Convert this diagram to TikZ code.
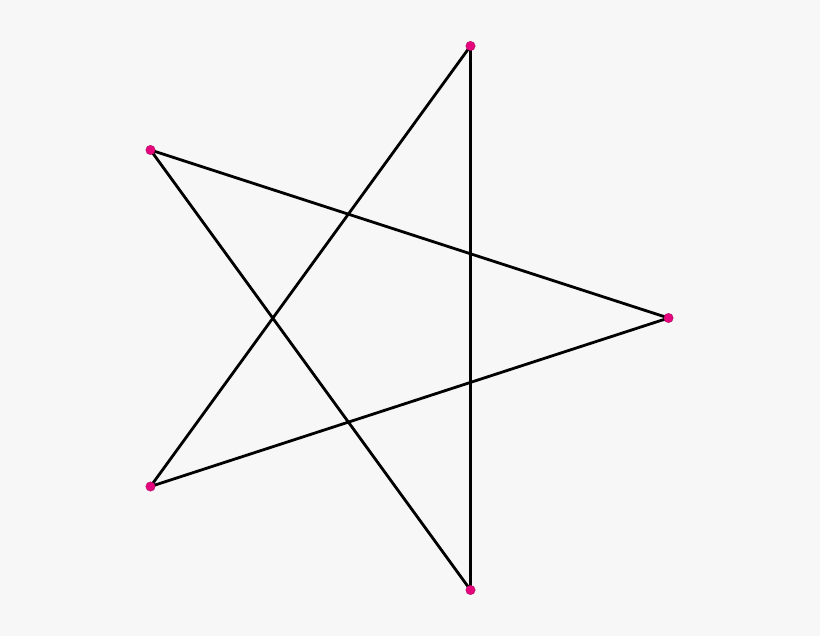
\documentclass[tikz,border=0pt]{standalone}
\definecolor{bg}{HTML}{F7F7F7}
\definecolor{dotc}{HTML}{E5067D}
\tikzset{
  vert/.style={circle,fill=dotc,draw=dotc!70!black,line width=0.3pt,inner sep=0pt,minimum size=9.5pt},
  edge/.style={line width=2.8pt,black,line cap=round,line join=round}
}
\begin{document}
\begin{tikzpicture}[x=1pt,y=-1pt]
\fill[bg] (0,0) rectangle (820,636);
\useasboundingbox (0,0) rectangle (820,636);
\coordinate (a) at (470.5,46);
\coordinate (b) at (150.5,486.5);
\coordinate (c) at (668.5,318);
\coordinate (d) at (150.5,150);
\coordinate (e) at (470.5,590);
\draw[edge] (a) -- (b) -- (c) -- (d) -- (e) -- cycle;
\foreach \p in {a,b,c,d,e} \node[vert] (n\p) at (\p) {};
\end{tikzpicture}
\end{document}
